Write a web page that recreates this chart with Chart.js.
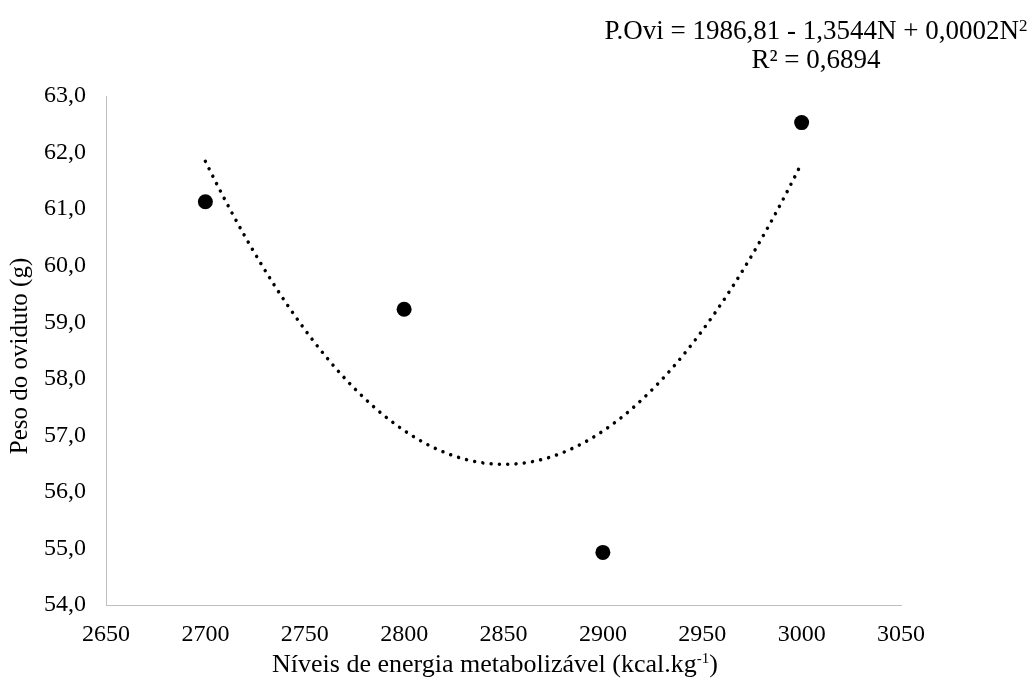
<!DOCTYPE html>
<html>
<head>
<meta charset="utf-8">
<script src="https://cdn.jsdelivr.net/npm/chart.js@4.4.1/dist/chart.umd.min.js"></script>
<style>
html,body{margin:0;padding:0;background:#fff;}
#wrap{width:1030px;height:684px;position:relative;}
</style>
</head>
<body>
<div id="wrap"><canvas id="c" width="1030" height="684"></canvas></div>
<script>
// Data
const energyLevels = [2700, 2800, 2900, 3000];
const oviductWeight = [61.13, 59.23, 54.93, 62.53];
const xTicks = [2650, 2700, 2750, 2800, 2850, 2900, 2950, 3000, 3050];
const yTicks = [54, 55, 56, 57, 58, 59, 60, 61, 62, 63];
const equationText = "P.Ovi = 1986,81 - 1,3544N + 0,0002N";
const r2Text = "R² = 0,6894";
const xTitle = "Níveis de energia metabolizável (kcal.kg";
const yTitle = "Peso do oviduto (g)";

// Quadratic least-squares trendline computed from the data points (as the spreadsheet does)
function quadFit(xs, ys) {
  const n = xs.length, xm = xs.reduce((a,b)=>a+b,0)/n;
  let S = [0,0,0,0,0], T = [0,0,0];
  for (let i=0;i<n;i++){ const t = xs[i]-xm; let p=1; for(let k=0;k<5;k++){S[k]+=p; if(k<3) T[k]+=p*ys[i]; p*=t;} }
  const M = [[S[0],S[1],S[2]],[S[1],S[2],S[3]],[S[2],S[3],S[4]]];
  const det = m => m[0][0]*(m[1][1]*m[2][2]-m[1][2]*m[2][1]) - m[0][1]*(m[1][0]*m[2][2]-m[1][2]*m[2][0]) + m[0][2]*(m[1][0]*m[2][1]-m[1][1]*m[2][0]);
  const D = det(M), coef = [];
  for (let j=0;j<3;j++){ const Mj = M.map((r,i)=>r.map((v,k)=>k===j?T[i]:v)); coef.push(det(Mj)/D); }
  return x => { const t=x-xm; return coef[0]+coef[1]*t+coef[2]*t*t; };
}
const trend = quadFit(energyLevels, oviductWeight);
const xMin = Math.min(...energyLevels), xMax = Math.max(...energyLevels);
const trendPts = [];
for (let i=0;i<=120;i++){ const x = xMin + (xMax-xMin)*i/120; trendPts.push({x, y: trend(x)}); }

const FONT = "'Liberation Serif', 'Times New Roman', serif";

const textPlugin = {
  id: 'texts',
  afterDraw(chart) {
    const ctx = chart.ctx;
    ctx.save();
    ctx.fillStyle = '#000';
    ctx.textBaseline = 'alphabetic';
    // equation block
    ctx.font = "27px " + FONT;
    const w1 = ctx.measureText(equationText).width;
    ctx.font = "17px " + FONT;
    const ws = ctx.measureText("2").width;
    const cx = 816;
    let x0 = cx - (w1 + ws)/2;
    ctx.font = "27px " + FONT;
    ctx.textAlign = 'left';
    ctx.fillText(equationText, x0, 39);
    ctx.font = "17px " + FONT;
    ctx.fillText("2", x0 + w1, 31);
    ctx.font = "27px " + FONT;
    ctx.textAlign = 'center';
    ctx.fillText(r2Text, cx, 68);
    // x title
    ctx.textAlign = 'left';
    ctx.font = "26px " + FONT;
    const wx = ctx.measureText(xTitle).width;
    const wc = ctx.measureText(")").width;
    ctx.font = "15px " + FONT;
    const wsup = ctx.measureText("-1").width;
    const xs = 495 - (wx + wsup + wc)/2;
    ctx.font = "26px " + FONT;
    ctx.fillText(xTitle, xs, 672);
    ctx.font = "15px " + FONT;
    ctx.fillText("-1", xs + wx, 663);
    ctx.font = "26px " + FONT;
    ctx.fillText(")", xs + wx + wsup, 672);
    // y title
    ctx.translate(20, 356);
    ctx.rotate(-Math.PI/2);
    ctx.textAlign = 'center';
    ctx.textBaseline = 'middle';
    ctx.font = "25px " + FONT;
    ctx.fillText(yTitle, 0, 0);
    ctx.restore();
  }
};

new Chart(document.getElementById('c'), {
  type: 'scatter',
  data: {
    datasets: [
      {
        data: trendPts,
        showLine: true,
        pointRadius: 0,
        borderColor: '#000',
        borderWidth: 3.5,
        borderDash: [0.01, 8.3],
        borderCapStyle: 'round',
        tension: 0,
        order: 2
      },
      {
        data: energyLevels.map((x,i)=>({x, y: oviductWeight[i]})),
        pointRadius: 7.5,
        pointBackgroundColor: '#000',
        pointBorderColor: '#000',
        pointBorderWidth: 0,
        showLine: false,
        order: 1
      }
    ]
  },
  options: {
    responsive: false,
    animation: false,
    devicePixelRatio: 1,
    layout: { padding: { top: 96, right: 129, bottom: 0, left: 0 } },
    plugins: { legend: { display: false }, tooltip: { enabled: false }, title: { display: false } },
    scales: {
      x: {
        type: 'linear',
        min: xTicks[0], max: xTicks[xTicks.length-1],
        afterBuildTicks: s => { s.ticks = xTicks.map(v=>({value:v})); },
        grid: { display: false, drawTicks: false },
        border: { display: true, color: '#bfbfbf', width: 1 },
        ticks: { color: '#000', font: { family: FONT, size: 24 }, padding: 15, maxRotation: 0, callback: v => String(v) },
        afterFit: s => { s.height = 79; }
      },
      y: {
        type: 'linear',
        min: yTicks[0], max: yTicks[yTicks.length-1],
        afterBuildTicks: s => { s.ticks = yTicks.map(v=>({value:v})); },
        grid: { display: false, drawTicks: false },
        border: { display: true, color: '#bfbfbf', width: 1 },
        ticks: { color: '#000', font: { family: FONT, size: 24 }, padding: 20, callback: v => v.toFixed(1).replace('.', ',') },
        afterFit: s => { s.width = 106; }
      }
    }
  },
  plugins: [textPlugin]
});
</script>
</body>
</html>
